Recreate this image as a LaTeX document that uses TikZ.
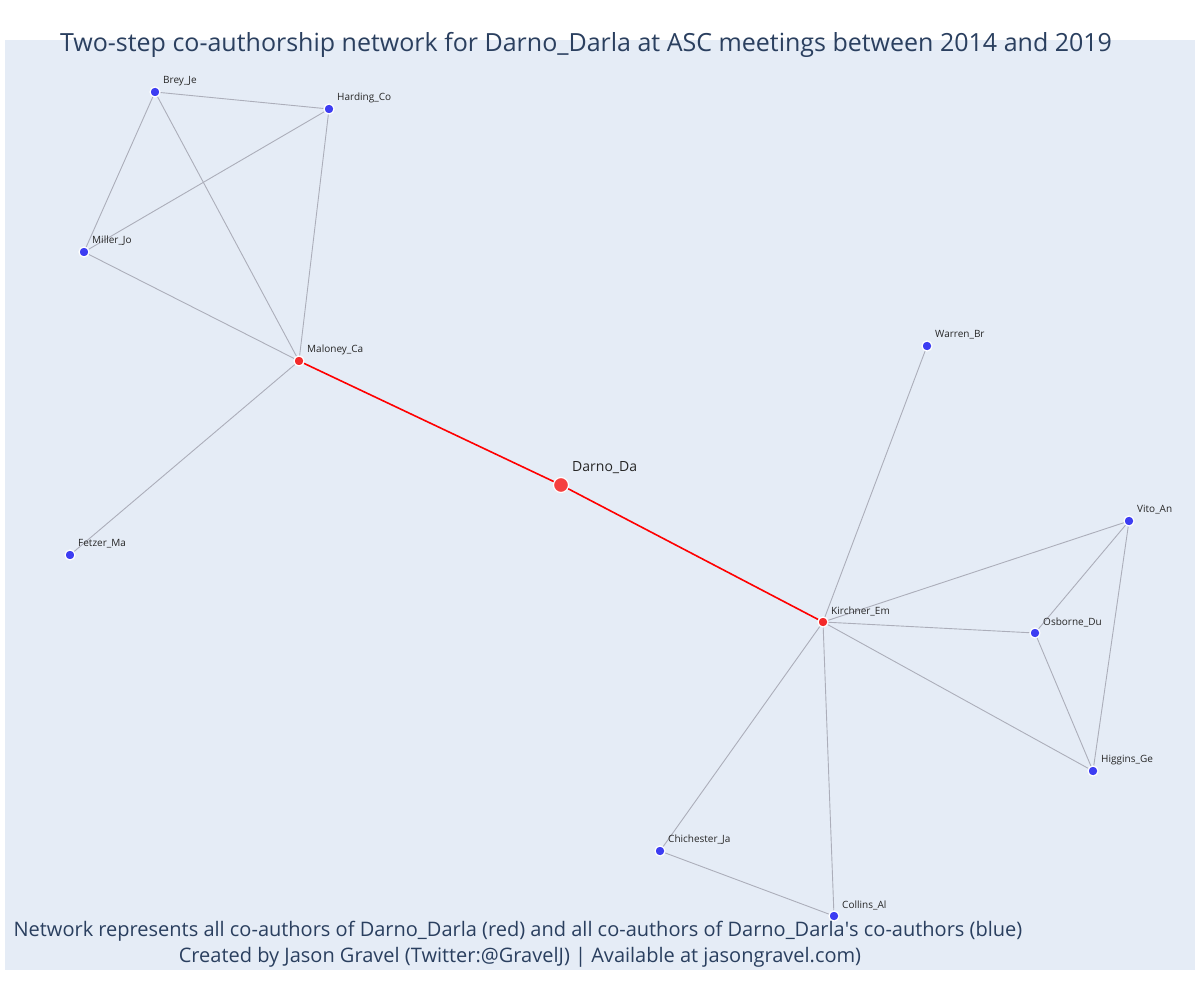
\documentclass[tikz,border=0pt]{standalone}
\usepackage{fontspec}
\setmainfont{Open Sans}
\definecolor{bgc}{HTML}{E5ECF6}
\definecolor{txt}{HTML}{2A3F5F}
\definecolor{edg}{HTML}{ACAEBA}
\definecolor{bluen}{HTML}{3D3DF2}
\definecolor{redn}{HTML}{F42A2A}
\tikzset{
  bnode/.style={circle,fill=bluen,draw=white,line width=1.2pt,inner sep=0pt,minimum size=10pt},
  rnode/.style={circle,fill=redn,draw=white,line width=1.2pt,inner sep=0pt,minimum size=10pt},
  bignode/.style={circle,fill=redn!90!white,draw=white,line width=1.2pt,inner sep=0pt,minimum size=15pt},
  lab/.style={anchor=west,font=\fontsize{10}{12}\selectfont,text=black!85,inner sep=0pt},
  biglab/.style={anchor=west,font=\fontsize{14}{16}\selectfont,text=black!85,inner sep=0pt},
  gedge/.style={draw=edg,line width=0.9pt},
  redge/.style={draw=red,line width=1.6pt},
}
\begin{document}
\begin{tikzpicture}[x=1pt,y=-1pt]
\useasboundingbox (0,0) rectangle (1200,1000);
\fill[white] (0,0) rectangle (1200,1000);
\fill[bgc] (5,40) rectangle (1195,970);
% nodes
\node[bnode] (brey) at (155,92) {};
\node[bnode] (harding) at (329,109) {};
\node[bnode] (miller) at (84,252) {};
\node[rnode] (maloney) at (299,361) {};
\node[bnode] (fetzer) at (70,555) {};
\node[bignode] (darno) at (561,485) {};
\node[bnode] (warren) at (927,346) {};
\node[rnode] (kirchner) at (823,622) {};
\node[bnode] (vito) at (1129,521) {};
\node[bnode] (osborne) at (1035,633) {};
\node[bnode] (higgins) at (1093,771) {};
\node[bnode] (chichester) at (660,851) {};
\node[bnode] (collins) at (834,916) {};
% edges
\path[gedge] (brey) -- (harding);
\path[gedge] (brey) -- (miller);
\path[gedge] (brey) -- (maloney);
\path[gedge] (harding) -- (miller);
\path[gedge] (harding) -- (maloney);
\path[gedge] (miller) -- (maloney);
\path[gedge] (maloney) -- (fetzer);
\path[gedge] (kirchner) -- (warren);
\path[gedge] (kirchner) -- (vito);
\path[gedge] (kirchner) -- (osborne);
\path[gedge] (kirchner) -- (higgins);
\path[gedge] (kirchner) -- (chichester);
\path[gedge] (kirchner) -- (collins);
\path[gedge] (vito) -- (osborne);
\path[gedge] (vito) -- (higgins);
\path[gedge] (osborne) -- (higgins);
\path[gedge] (chichester) -- (collins);
\path[redge] (maloney) -- (darno);
\path[redge] (darno) -- (kirchner);
% labels
\node[lab] (lbrey) at ([shift={(8,-11)}]brey.center) {Brey\_Je};
\node[lab] (lharding) at ([shift={(8,-11)}]harding.center) {Harding\_Co};
\node[lab] (lmiller) at ([shift={(8,-11)}]miller.center) {Miller\_Jo};
\node[lab] (lmaloney) at ([shift={(8,-11)}]maloney.center) {Maloney\_Ca};
\node[lab] (lfetzer) at ([shift={(8,-11)}]fetzer.center) {Fetzer\_Ma};
\node[biglab] (ldarno) at ([shift={(11,-17)}]darno.center) {Darno\_Da};
\node[lab] (lwarren) at ([shift={(8,-11)}]warren.center) {Warren\_Br};
\node[lab] (lkirchner) at ([shift={(8,-11)}]kirchner.center) {Kirchner\_Em};
\node[lab] (lvito) at ([shift={(8,-11)}]vito.center) {Vito\_An};
\node[lab] (losborne) at ([shift={(8,-11)}]osborne.center) {Osborne\_Du};
\node[lab] (lhiggins) at ([shift={(8,-11)}]higgins.center) {Higgins\_Ge};
\node[lab] (lchichester) at ([shift={(8,-11)}]chichester.center) {Chichester\_Ja};
\node[lab] (lcollins) at ([shift={(8,-11)}]collins.center) {Collins\_Al};
% title and notes
\node[font=\fontsize{25}{29}\selectfont,text=txt,inner sep=0pt] (title) at (586,45) {Two-step co-authorship network for Darno\_Darla at ASC meetings between 2014 and 2019};
\node[font=\fontsize{20}{24}\selectfont,text=txt,inner sep=0pt] (note1) at (518,931) {Network represents all co-authors of Darno\_Darla (red) and all co-authors of Darno\_Darla\textquotesingle s co-authors (blue)};
\node[font=\fontsize{20}{24}\selectfont,text=txt,inner sep=0pt] (note2) at (520,957) {Created by Jason Gravel (Twitter:@GravelJ) | Available at jasongravel.com)};
\end{tikzpicture}
\end{document}
